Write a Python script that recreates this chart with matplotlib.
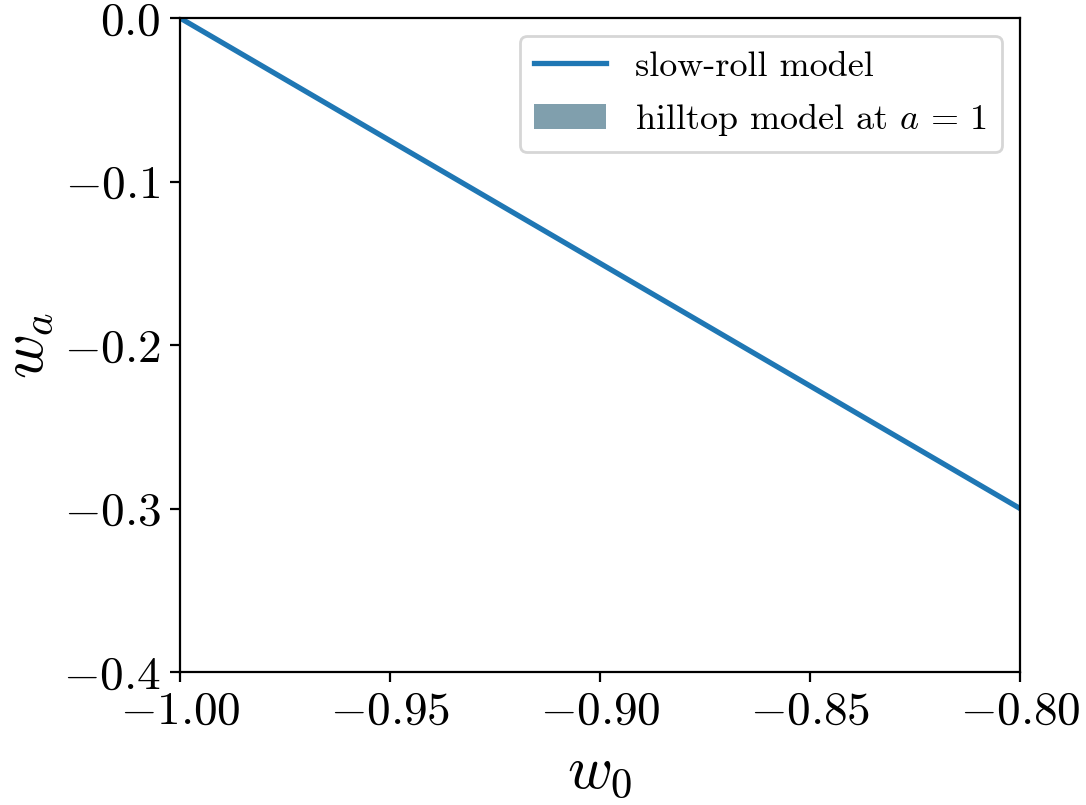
import matplotlib
matplotlib.use("Agg")
import matplotlib.pyplot as plt
from matplotlib.patches import Patch

plt.rcParams["font.family"] = "serif"
plt.rcParams["font.serif"] = ["cmr10"]
plt.rcParams["mathtext.fontset"] = "cm"
plt.rcParams["axes.formatter.use_mathtext"] = True

# slow-roll line endpoints (w0, wa)
w0_slow = [-1.00, -0.80]
wa_slow = [0.00, -0.30]

x_ticks = [-1.00, -0.95, -0.90, -0.85, -0.80]
y_ticks = [0.0, -0.1, -0.2, -0.3, -0.4]

fig = plt.figure(figsize=(5.43, 4.025), dpi=200)
ax = fig.add_subplot(111)
fig.subplots_adjust(left=180 / 1086, right=1020 / 1086,
                    top=1 - 18 / 805, bottom=1 - 672 / 805)

ax.plot(w0_slow, wa_slow, color="#1f77b4", lw=1.9, label="slow-roll model")
hilltop = Patch(facecolor="#809fad", edgecolor="none",
                label=r"hilltop model at $a\,=\,1$")

ax.set_xlim(-1.0, -0.8)
ax.set_ylim(-0.4, 0.0)
ax.set_xticks(x_ticks)
ax.set_yticks(y_ticks)
ax.tick_params(labelsize=17)
ax.set_xlabel(r"$w_0$", fontsize=22)
ax.set_ylabel(r"$w_a$", fontsize=22, labelpad=3)

ax.legend(handles=[ax.lines[0], hilltop], loc="upper right", fontsize=13)

fig.savefig("out.png", dpi=200)
